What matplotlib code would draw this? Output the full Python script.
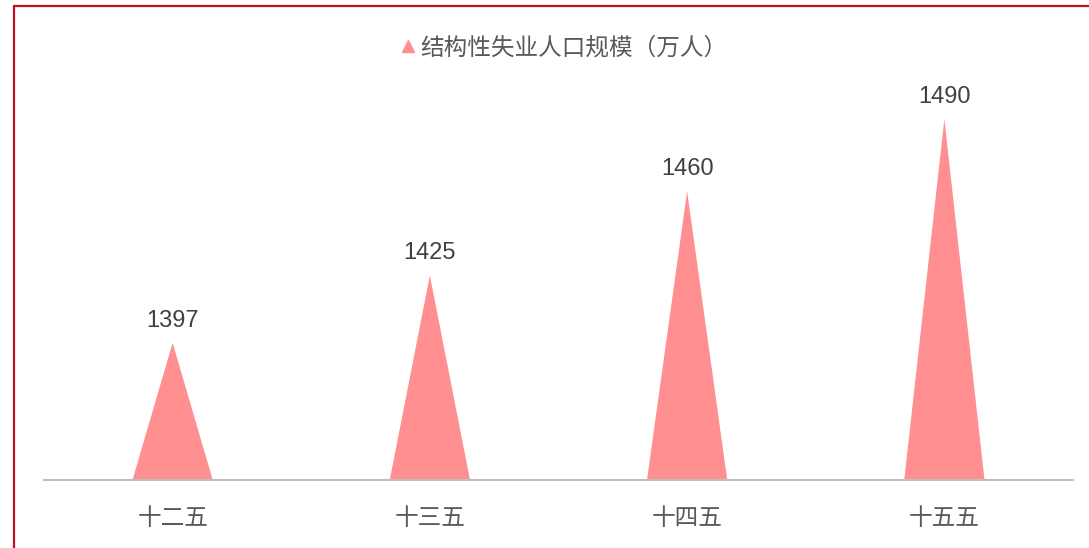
import numpy as np
import matplotlib.pyplot as plt
from matplotlib.lines import Line2D
from matplotlib.patches import Rectangle

# data
periods = ['十二五', '十三五', '十四五', '十五五']
values = [1397, 1425, 1460, 1490]
series_name = '结构性失业人口规模（万人）'

plt.rcParams['font.family'] = ['Liberation Sans', 'Noto Sans CJK SC', 'DejaVu Sans']

fill_color = '#FF8F91'
text_color = '#595959'
y_min, y_max = 1340, 1500

fig = plt.figure(figsize=(10.89, 5.48), dpi=100)
ax = fig.add_axes([44 / 1089, 68 / 548, 1029 / 1089, 385 / 548])

x = np.arange(len(periods))
half_w = 0.156
for xi, v in zip(x, values):
    # pointed column, like the excel "triangle" bar
    ax.fill([xi - half_w, xi, xi + half_w], [y_min, v, y_min],
            color=fill_color, lw=0, zorder=2)
    ax.annotate(str(v), (xi, v), xytext=(0, 8), textcoords='offset points',
                ha='center', va='bottom', fontsize=17, color='#404040')

ax.set_xlim(-0.5, len(periods) - 0.5)
ax.set_ylim(y_min, y_max)
ax.set_xticks(x)
ax.set_xticklabels(periods, fontsize=17, color=text_color)
ax.tick_params(axis='x', length=0, pad=20)
ax.set_yticks([])
for side in ['top', 'right', 'left']:
    ax.spines[side].set_visible(False)
ax.spines['bottom'].set_color('#BFBFBF')
ax.spines['bottom'].set_linewidth(1.5)

handle = Line2D([], [], marker='^', color=fill_color, linestyle='none', markersize=8)
fig.legend([handle], [series_name], loc='center', bbox_to_anchor=(0.516, 1 - 48 / 548),
           frameon=False, fontsize=17, labelcolor=text_color,
           handletextpad=0.0, handlelength=1.0)

# red frame around the chart area (runs off the right/bottom edges)
fig.patches.append(Rectangle((14 / 1089, -0.05), 1.1, 1 - 6 / 548 + 0.05,
                             transform=fig.transFigure, fill=False,
                             edgecolor='#C0101E', lw=1.6, zorder=5))

fig.savefig('out.png', dpi=100)
